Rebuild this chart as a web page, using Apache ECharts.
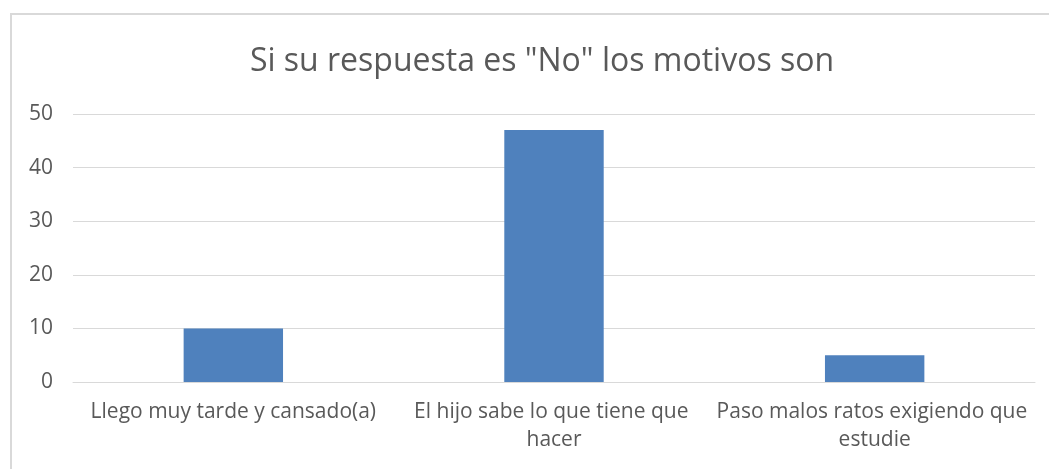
<!DOCTYPE html>
<html>
<head>
<meta charset="utf-8">
<script src="https://cdn.jsdelivr.net/npm/echarts@6/dist/echarts.min.js"></script>
<style>
  html, body { margin: 0; padding: 0; background: #fff; }
  #frame { position: absolute; left: 10px; top: 13px; width: 1060px; height: 480px; border: 2px solid #d9d9d9; box-sizing: border-box; }
  #myChart { position: absolute; left: 0; top: 0; width: 1049px; height: 469px; }
</style>
</head>
<body>
<div id="frame"></div>
<div id="myChart"></div>
<script>
const titleText = 'Si su respuesta es "No" los motivos son';
const categories = ['Llego muy tarde y cansado(a)', 'El hijo sabe lo que tiene que hacer', 'Paso malos ratos exigiendo que estudie'];
const values = [10, 47, 5];
const yTicks = { min: 0, max: 50, interval: 10 };

const textColor = '#595959';
const font = '"Open Sans", sans-serif';

const option = {
  animation: false,
  title: {
    text: titleText,
    left: 537,
    textAlign: 'center',
    top: 41,
    textStyle: { color: textColor, fontFamily: font, fontSize: 32, fontWeight: 'normal' }
  },
  grid: { left: 73, right: 14, top: 114, bottom: 87 },
  xAxis: {
    type: 'category',
    data: categories,
    axisLine: { lineStyle: { color: '#d9d9d9', width: 1 } },
    axisTick: { show: false },
    axisLabel: {
      color: textColor, fontFamily: font, fontSize: 21, margin: 16,
      width: 318, overflow: 'break', lineHeight: 28, interval: 0
    }
  },
  yAxis: {
    type: 'value',
    min: yTicks.min, max: yTicks.max, interval: yTicks.interval,
    axisLine: { show: false },
    axisTick: { show: false },
    axisLabel: { color: textColor, fontFamily: font, fontSize: 21, margin: 20 },
    splitLine: { lineStyle: { color: '#d9d9d9', width: 1 } }
  },
  series: [{
    type: 'bar',
    data: values,
    barWidth: '31%',
    itemStyle: { color: '#4f81bd' }
  }]
};

const myChart = echarts.init(document.getElementById('myChart'));
myChart.setOption(option);
</script>
</body>
</html>
